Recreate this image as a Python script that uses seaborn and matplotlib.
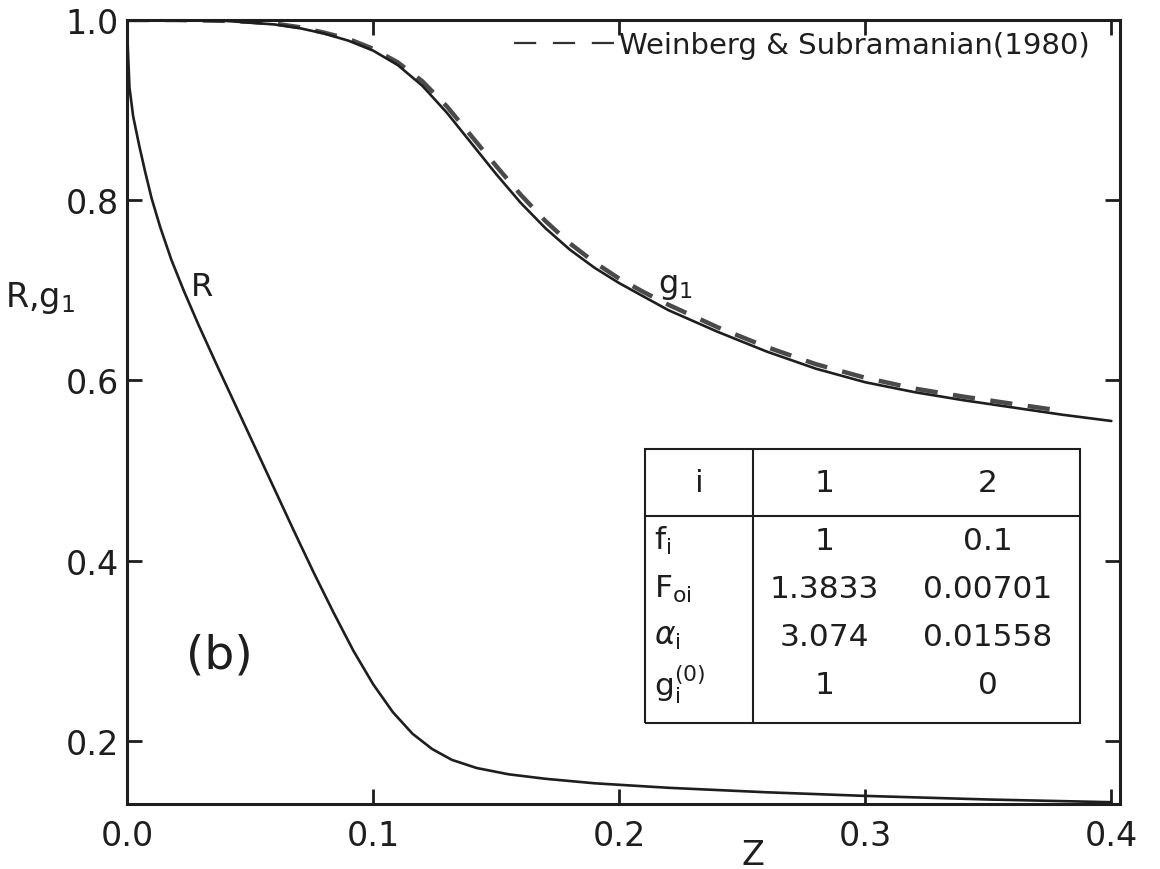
import matplotlib
matplotlib.use("Agg")
import matplotlib.pyplot as plt
from matplotlib.lines import Line2D
import seaborn as sns

# g1(Z) from the present calculation
z_g1 = [0.00, 0.02, 0.04, 0.05, 0.06, 0.07, 0.08, 0.09, 0.10, 0.11, 0.12, 0.13,
        0.14, 0.15, 0.16, 0.17, 0.18, 0.19, 0.20, 0.21, 0.22, 0.24, 0.26, 0.28,
        0.30, 0.32, 0.34, 0.36, 0.38, 0.40]
g1_vals = [1.000, 1.000, 0.999, 0.997, 0.995, 0.991, 0.985, 0.977, 0.966, 0.950,
           0.927, 0.897, 0.863, 0.829, 0.797, 0.769, 0.745, 0.725, 0.708, 0.693,
           0.678, 0.654, 0.632, 0.613, 0.598, 0.587, 0.578, 0.570, 0.562, 0.555]

# Weinberg & Subramanian (1980)
z_ws = [0.00, 0.02, 0.04, 0.05, 0.06, 0.07, 0.08, 0.09, 0.10, 0.11, 0.12, 0.13,
        0.14, 0.15, 0.16, 0.17, 0.18, 0.19, 0.20, 0.21, 0.22, 0.24, 0.26, 0.28,
        0.30, 0.32, 0.34, 0.36, 0.378]
ws_vals = [1.000, 1.000, 0.999, 0.998, 0.996, 0.992, 0.986, 0.979, 0.968, 0.953,
           0.932, 0.904, 0.871, 0.838, 0.806, 0.777, 0.752, 0.731, 0.713, 0.698,
           0.684, 0.659, 0.637, 0.618, 0.603, 0.591, 0.582, 0.574, 0.567]

# R(Z)
z_r = [0.0, 0.001, 0.0025, 0.005, 0.0075, 0.010, 0.0135, 0.018, 0.023, 0.029,
       0.036, 0.044, 0.052, 0.060, 0.068, 0.076, 0.084, 0.092, 0.100, 0.108,
       0.116, 0.124, 0.132, 0.142, 0.155, 0.17, 0.19, 0.22, 0.26, 0.30, 0.35, 0.40]
r_vals = [0.990, 0.925, 0.893, 0.860, 0.830, 0.802, 0.770, 0.734, 0.700, 0.662,
          0.620, 0.573, 0.526, 0.479, 0.432, 0.386, 0.342, 0.300, 0.263, 0.232,
          0.208, 0.191, 0.179, 0.170, 0.163, 0.158, 0.153, 0.148, 0.143, 0.139,
          0.135, 0.132]

x_ticks = [0.0, 0.1, 0.2, 0.3, 0.4]
x_tick_labels = ["0.0", "0.1", "0.2", "0.3", "0.4"]
y_ticks = [0.2, 0.4, 0.6, 0.8, 1.0]
y_tick_labels = ["0.2", "0.4", "0.6", "0.8", "1.0"]

table_header = ["i", "1", "2"]
table_rows = [r"f$_\mathregular{i}$", r"F$_\mathregular{oi}$",
              r"$\alpha_\mathregular{i}$", r"g$_\mathregular{i}^\mathregular{(0)}$"]
table_vals = [["1", "0.1"], ["1.3833", "0.00701"], ["3.074", "0.01558"], ["1", "0"]]

legend_label = "Weinberg & Subramanian(1980)"

sns.set_style("ticks")
plt.rcParams["font.family"] = ["DejaVu Sans"]
plt.rcParams["mathtext.fontset"] = "dejavusans"

ink = "#1e1e1e"

fig = plt.figure(figsize=(11.6, 8.7), dpi=100)
ax = fig.add_axes([0.1095, 0.0747, 0.856, 0.9012])

sns.lineplot(x=z_ws, y=ws_vals, ax=ax, color="#4a4a4a", lw=3.2,
             linestyle=(0, (5, 3.5)), estimator=None, zorder=2)
sns.lineplot(x=z_g1, y=g1_vals, ax=ax, color=ink, lw=1.9, estimator=None, zorder=3)
sns.lineplot(x=z_r, y=r_vals, ax=ax, color=ink, lw=1.9, estimator=None, zorder=3)

ax.set_xlim(0.0, 0.4035)
ax.set_ylim(0.13, 1.0)
ax.set_xticks(x_ticks)
ax.set_xticklabels(x_tick_labels)
ax.set_yticks(y_ticks)
ax.set_yticklabels(y_tick_labels)
ax.tick_params(axis="both", which="major", direction="in", length=11, width=2,
               colors=ink, labelsize=24, top=True, right=True)
ax.tick_params(axis="x", pad=11)
ax.tick_params(axis="y", pad=6)
for sp in ax.spines.values():
    sp.set_visible(True)
    sp.set_linewidth(2.2)
    sp.set_color(ink)

ax.set_ylabel(r"R,g$_1$", rotation=0, fontsize=24, color=ink, ha="center", va="center")
ax.yaxis.set_label_coords(-0.088, 0.647)
ax.set_xlabel("Z", fontsize=24, color=ink, ha="center", va="center")
ax.xaxis.set_label_coords(0.63, -0.064)

ax.text(0.0305, 0.704, "R", fontsize=23, color=ink, ha="center", va="center")
ax.text(0.2228, 0.688, r"g$_1$", fontsize=23, color=ink, ha="center", va="bottom")
ax.text(0.0374, 0.295, "(b)", fontsize=34, color=ink, ha="center", va="center")

handle = Line2D([], [], color="#333333", lw=1.6, linestyle=(0, (10, 7.5)))
ax.legend([handle], [legend_label], loc="upper right", bbox_to_anchor=(0.97, 0.986),
          frameon=False, fontsize=21, handlelength=3.5, handletextpad=0.1,
          borderaxespad=0, borderpad=0, labelcolor=ink)

# parameter table: header, four data rows and a blank spacer row at the bottom
cell_text = ([table_header]
             + [[lab] + vals for lab, vals in zip(table_rows, table_vals)]
             + [["", "", ""]])
col_w = [108, 142, 185]
row_h = [67, 48, 48, 48, 48, 15]
tab = ax.table(cellText=cell_text, cellLoc="center",
               bbox=[0.5217, 0.1033, 0.438, 0.3495], zorder=4)
tab.auto_set_font_size(False)
tab.set_fontsize(22.5)
n_rows = len(cell_text)
for (r, c), cell in tab.get_celld().items():
    cell.set_width(col_w[c])
    cell.set_height(row_h[r])
    cell.set_linewidth(1.5)
    cell.set_edgecolor(ink)
    cell.set_facecolor("none")
    cell.get_text().set_color(ink)
    edges = ""
    if r == 0:
        edges += "TB"
    if r == n_rows - 1:
        edges += "B"
    if c == 0:
        edges += "LR"
    if c == 2:
        edges += "R"
    cell.visible_edges = edges if edges else "open"
    if 0 < r < n_rows - 1 and c == 0:
        cell.PAD = 0.08
        cell.get_text().set_horizontalalignment("left")

fig.savefig("out.png", dpi=100, facecolor="white")
